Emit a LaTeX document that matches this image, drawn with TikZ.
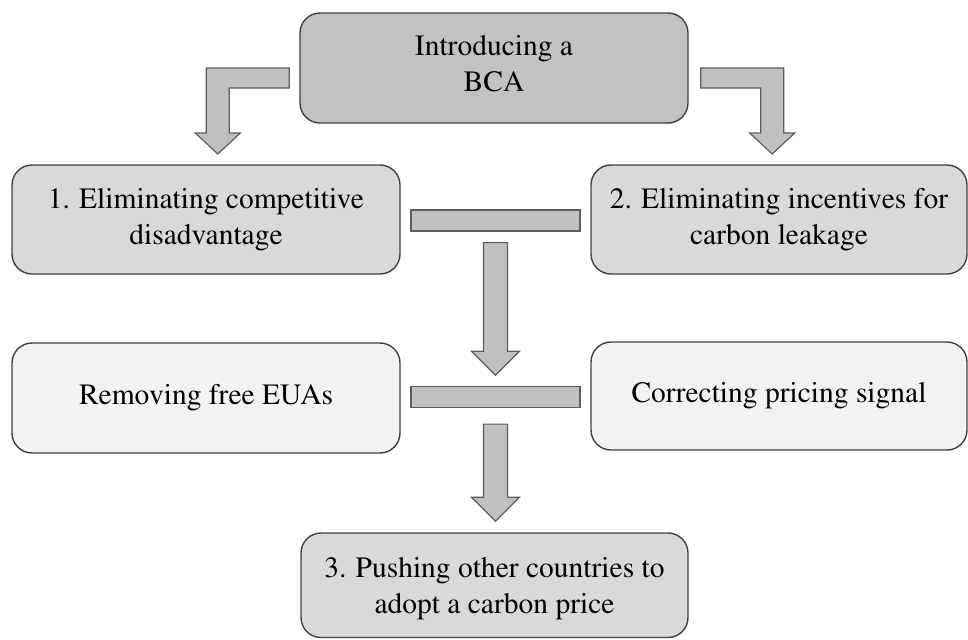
\documentclass[tikz,border=0pt]{standalone}
\usepackage[T1]{fontenc}
\usepackage{mathptmx}
\usetikzlibrary{positioning,calc}

\definecolor{topfill}{HTML}{C2C2C2}
\definecolor{stepfill}{HTML}{D9D9D9}
\definecolor{softfill}{HTML}{F2F2F2}
\definecolor{arrowfill}{HTML}{C0C0C0}
\definecolor{edgegray}{HTML}{404040}

\tikzset{
	box/.style     = {draw=edgegray, line width=0.7pt, rounded corners=10pt, align=center, inner sep=0pt,
	                  font=\fontsize{14.75}{18}\selectfont},
	blockarrow/.style = {draw=edgegray!85, fill=arrowfill, line width=0.6pt, line join=miter},
	bar/.style     = {draw=edgegray!85, fill=arrowfill, line width=0.6pt, inner sep=0pt,
	                  minimum width=84.5pt, minimum height=10.5pt},
}

\newcommand{\blockdown}[2]{%
	\draw[blockarrow] ($(#1)+(-12,0)$) -- ($(#1)+(12,0)$) -- ($(#2)+(12,-24)$) -- ($(#2)+(24,-24)$)
	      -- (#2) -- ($(#2)+(-24,-24)$) -- ($(#2)+(-12,-24)$) -- cycle;}

\begin{document}
\begin{tikzpicture}[x=0.5pt, y=-0.5pt]
	\useasboundingbox (0,0) rectangle (968,639);

	\node[name=bca,  box, fill=topfill,  minimum width=194pt, minimum height=55pt, text depth=5pt] at (494,68) {Introducing a\\BCA};
	\node[name=comp, box, fill=stepfill, minimum width=194pt, minimum height=54.5pt] at (206,219.5) {1. Eliminating competitive\\disadvantage};
	\node[name=leak, box, fill=stepfill, minimum width=188pt, minimum height=54.5pt] at (779,219.5) {2. Eliminating incentives for\\carbon leakage};
	\node[name=euas, box, fill=softfill, minimum width=194pt, minimum height=55pt]   at (206,398)   {Removing free EUAs};
	\node[name=sign, box, fill=softfill, minimum width=188pt, minimum height=54pt]   at (779,396)   {Correcting pricing signal};
	\node[name=push, box, fill=stepfill, minimum width=193.5pt, minimum height=52.25pt, text depth=0pt] at (494.5,585.25) {3. Pushing other countries to\\adopt a carbon price};

	\node[name=bar1, bar] at ($(comp.east)!0.5!(leak.west)+(0,1)$) {};
	\node[name=bar2, bar] at ($(euas.east)!0.5!(sign.west)+(0,0)$) {};

	\draw[blockarrow] ($(bca.west)+(-10,0)$) -- ++(-83,0) -- ++(0,65) -- ++(-11,0) -- ++(22.5,21)
	      -- ++(22.5,-21) -- ++(-11,0) -- ++(0,-45) -- ++(60,0) -- cycle;
	\draw[blockarrow] ($(bca.east)+(12,0)$) -- ++(83,0) -- ++(0,65) -- ++(11,0) -- ++(-22.5,21)
	      -- ++(-22.5,-21) -- ++(11,0) -- ++(0,-45) -- ++(-60,0) -- cycle;

	\coordinate (tip1) at ($(euas.north -| bar1)+(0,33)$);
	\coordinate (tip2) at ($(push.north -| bar2)+(0,-11)$);
	\blockdown{$(bar1.south)+(0,11)$}{tip1}
	\blockdown{$(bar2.south)+(0,16)$}{tip2}
\end{tikzpicture}
\end{document}
